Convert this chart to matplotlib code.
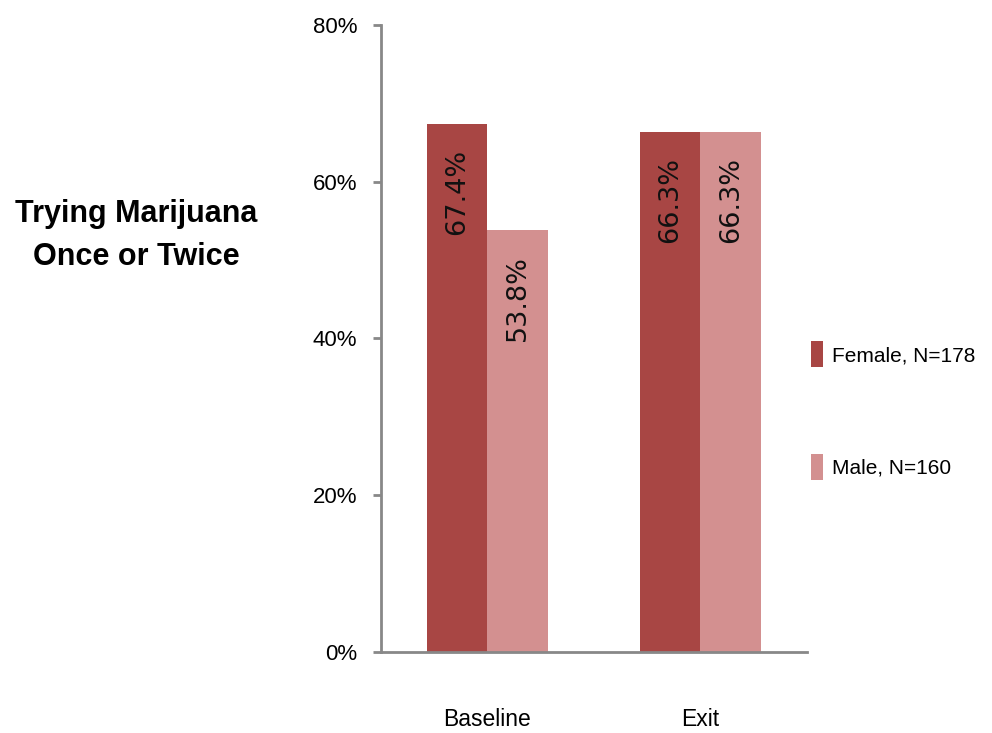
import matplotlib.pyplot as plt
import numpy as np

# Chart data
groups = ["Baseline", "Exit"]
female = [67.4, 66.3]
male = [53.8, 66.3]
series_labels = ["Female, N=178", "Male, N=160"]
yticks = [0, 20, 40, 60, 80]

female_color = "#A84644"
male_color = "#D39090"
narrow = ["Liberation Sans Narrow", "Liberation Sans", "DejaVu Sans"]

fig = plt.figure(figsize=(9.92, 7.33), dpi=100)
ax = fig.add_axes([0.384, 0.1105, 0.4295, 0.8554])

x = np.arange(len(groups))
w = 0.285
b1 = ax.bar(x - w / 2, female, width=w, color=female_color, label=series_labels[0])
b2 = ax.bar(x + w / 2, male, width=w, color=male_color, label=series_labels[1])

# Value labels inside the bars, rotated
for bars, vals in [(b1, female), (b2, male)]:
    for rect, v in zip(bars, vals):
        ax.text(rect.get_x() + rect.get_width() / 2, v - 3.2, f"{v:.1f}%",
                rotation=90, ha="center", va="top", fontsize=19.5,
                family="DejaVu Sans", color="#111111")

ax.set_xlim(-0.5, 1.5)
ax.set_ylim(0, 80)
ax.set_yticks(yticks)
ax.set_yticklabels([f"{t}%" for t in yticks], family=narrow, fontsize=16)
ax.set_xticks(x)
ax.set_xticklabels(groups, family=narrow, fontsize=16.5)
ax.tick_params(axis="y", length=6, width=2, color="#888888", pad=11)
ax.tick_params(axis="x", length=0, pad=40)

for s in ["top", "right"]:
    ax.spines[s].set_visible(False)
for s in ["left", "bottom"]:
    ax.spines[s].set_color("#888888")
    ax.spines[s].set_linewidth(2)

fig.text(0.137, 0.679, "Trying Marijuana\nOnce or Twice", ha="center", va="center",
         family=narrow, fontweight="bold", fontsize=22, linespacing=1.55)

leg = ax.legend(loc="center left", bbox_to_anchor=(0.99, 0.385), frameon=False,
                prop={"family": narrow, "size": 15}, handlelength=0.55,
                handleheight=1.5, handletextpad=0.45, labelspacing=4.2,
                borderaxespad=0.0)

fig.savefig("out.png", dpi=100)
